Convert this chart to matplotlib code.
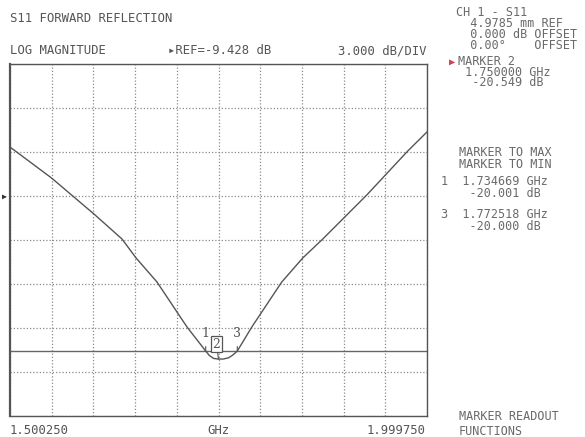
import matplotlib
matplotlib.use("Agg")
import matplotlib.pyplot as plt
import numpy as np

# ---- data ----
freq_ghz = [1.50025, 1.5500, 1.6009, 1.6344, 1.6512, 1.6763, 1.7003, 1.7123,
            1.7347, 1.7390, 1.7440, 1.7500, 1.7560, 1.7620, 1.7670, 1.7725,
            1.7899, 1.8258, 1.8510, 1.8749, 1.9276, 1.9767, 1.99975]
s11_db = [-6.09, -8.20, -10.66, -12.36, -13.65, -15.29, -17.34, -18.36,
          -20.00, -20.30, -20.50, -20.55, -20.54, -20.46, -20.28, -20.00,
          -18.36, -15.29, -13.65, -12.36, -9.36, -6.36, -5.06]
marker_ids = ["1", "2", "3"]
marker_freq = [1.734669, 1.750000, 1.772518]
marker_db = [-20.001, -20.549, -20.000]
limit_db = -20.0
ref_db = -9.428
db_per_div = 3.0
ref_pos_div = 5          # divisions above bottom
n_ydiv = 8
n_xdiv = 10
f_start, f_stop = 1.500250, 1.999750

W, H = 585, 437
fig = plt.figure(figsize=(W / 100, H / 100), dpi=100)
fig.patch.set_facecolor("white")

L, R, T, B = 10, 427, 64, 416
ax = fig.add_axes([L / W, 1 - B / H, (R - L) / W, (B - T) / H])

ybot = ref_db - ref_pos_div * db_per_div
ytop = ybot + n_ydiv * db_per_div
ax.set_xlim(f_start, f_stop)
ax.set_ylim(ybot, ytop)
ax.set_xticks(np.linspace(f_start, f_stop, n_xdiv + 1))
ax.set_yticks(np.linspace(ybot, ytop, n_ydiv + 1))
ax.tick_params(length=0, labelbottom=False, labelleft=False)
ax.grid(True, color="#8a8a8a", linestyle=(0, (1, 1.6)), linewidth=0.9)
for s in ax.spines.values():
    s.set_color("#555555")
    s.set_linewidth(1.0)
ax.spines["left"].set_linewidth(1.6)

ax.axhline(limit_db, color="#666666", linewidth=1.0)
ax.plot(freq_ghz, s11_db, color="#555555", linewidth=1.0)

mfont = dict(family="DejaVu Serif", fontsize=9, color="#555555")
for mid, mf, md in zip(marker_ids, marker_freq, marker_db):
    if mid == "2":
        ax.annotate(mid, xy=(mf, md), xytext=(-2, 15), textcoords="offset pixels",
                    ha="center", va="center",
                    bbox=dict(boxstyle="square,pad=0.1", fc="white", ec="#555555", lw=0.9),
                    arrowprops=dict(arrowstyle="-", color="#555555", lw=0.8,
                                    shrinkA=0, shrinkB=0), **mfont)
    else:
        ax.annotate(mid, xy=(mf, md), xytext=(0, 18), textcoords="offset pixels",
                    ha="center", va="center",
                    arrowprops=dict(arrowstyle="-", color="#555555", lw=0.8,
                                    shrinkA=3, shrinkB=0), **mfont)

# ---- texts ----
def t(x, y, s, ha="left", size=8.8, color="#555555", ls=1.2, **kw):
    fig.text(x / W, 1 - y / H, s, ha=ha, va="center", fontsize=size,
             family="DejaVu Sans Mono", color=color, linespacing=ls, **kw)

t(10, 18, "S11 FORWARD REFLECTION")
t(10, 51, "LOG MAGNITUDE")
t(168, 51, "\u25b8REF=%.3f dB" % ref_db)
t(427, 51, "%.3f dB/DIV" % db_per_div, ha="right")

rc = "#6a6a6a"
rs = 8.5
t(456, 29, "CH 1 - S11\n  4.9785 mm REF\n  0.000 dB OFFSET\n  0.00\u00b0    OFFSET",
  color=rc, size=rs, ls=0.8)
t(449, 62, "\u25b6", color="#d04050", size=7.5)
t(458, 72, "MARKER 2\n %.6f GHz\n  %.3f dB" % (marker_freq[1], marker_db[1]),
  color=rc, size=rs, ls=0.74)
t(459, 158, "MARKER TO MAX\nMARKER TO MIN", color=rc, size=rs, ls=0.9)
t(441, 188, "1  %.6f GHz\n    %.3f dB" % (marker_freq[0], marker_db[0]),
  color=rc, size=rs, ls=0.9)
t(441, 220.5, "3  %.6f GHz\n    %.3f dB" % (marker_freq[2], marker_db[2]),
  color=rc, size=rs, ls=0.8)
t(459, 424, "MARKER READOUT\nFUNCTIONS", color=rc, size=rs, ls=1.22)

t(10, 430, "%.6f" % f_start)
t(218, 430, "GHz", ha="center")
t(426, 430, "%.6f" % f_stop, ha="right")

# reference position arrow
ref_y = B - ref_pos_div * (B - T) / n_ydiv
t(2, ref_y, "\u25b6", size=6, color="#333333")

fig.savefig("out.png", dpi=100, facecolor="white")
